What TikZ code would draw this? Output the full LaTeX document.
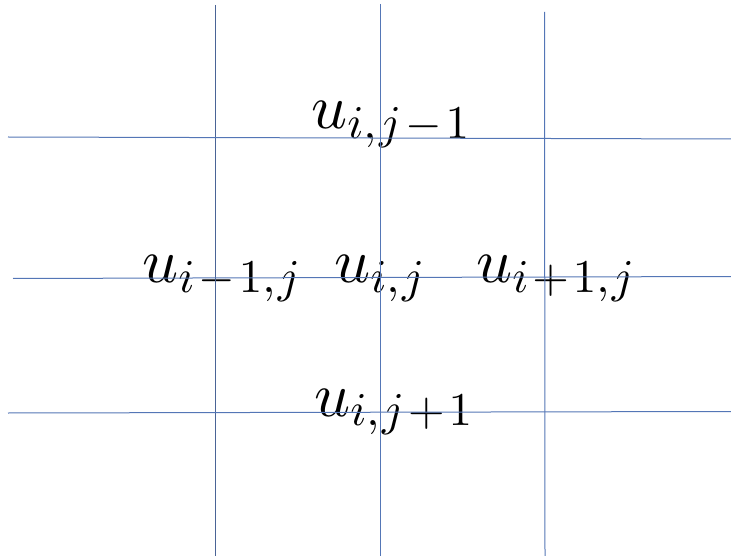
\documentclass[tikz,border=0pt]{standalone}
\DeclareFontShape{OML}{cmm}{m}{it}{<-> cmmi10}{}
\DeclareFontShape{OMS}{cmsy}{m}{n}{<-> cmsy10}{}
\DeclareFontShape{OT1}{cmr}{m}{n}{<-> cmr10}{}
\DeclareMathSizes{63}{63}{47}{34}
\newcommand\mn{\mskip1.5mu-\mskip1.5mu}
\newcommand\pl{\mskip1.5mu+\mskip1.5mu}
\newcommand\cm{,\mskip1mu}
\tikzset{
  lab/.style={inner sep=0pt, anchor=base west, font=\fontsize{63}{70}\selectfont, text=black},
  gridA/.style={line width=1pt, draw={rgb,255:red,74;green,100;blue,150}},
  gridB/.style={line width=1pt, draw={rgb,255:red,84;green,118;blue,182}}
}
\begin{document}
\begin{tikzpicture}[x=1pt,y=-1pt]
\useasboundingbox (0,0) rectangle (731,556);
\node[lab] (top) at (311,129) {$u_{i\cm j\mn1}$};
\node[lab] (left) at (142,283) {$u_{i\mn1\cm j}$};
\node[lab] (mid) at (334,283) {$u_{i\cm j}$};
\node[lab] (right) at (476,283) {$u_{i\pl1\cm j}$};
\node[lab] (bot) at (314,416) {$u_{i\cm j\pl1}$};
\coordinate (v1t) at (215,5);   \coordinate (v1b) at (215,556);
\coordinate (v2t) at (380,4);   \coordinate (v2b) at (380,556);
\coordinate (v3t) at (544.5,12);\coordinate (v3b) at (545,556);
\coordinate (h1l) at (8,137);   \coordinate (h1r) at (731,139);
\coordinate (h2l) at (13,278.5);\coordinate (h2r) at (731,276.5);
\coordinate (h3l) at (8,413);   \coordinate (h3r) at (731,411.5);
\draw[gridA] (v1t) -- (v1b);
\draw[gridB] (v2t) -- (v2b);
\draw[gridB] (v3t) -- (v3b);
\draw[gridB] (h1l) -- (h1r);
\draw[gridB] (h2l) -- (h2r);
\draw[gridB] (h3l) -- (h3r);
\end{tikzpicture}
\end{document}
